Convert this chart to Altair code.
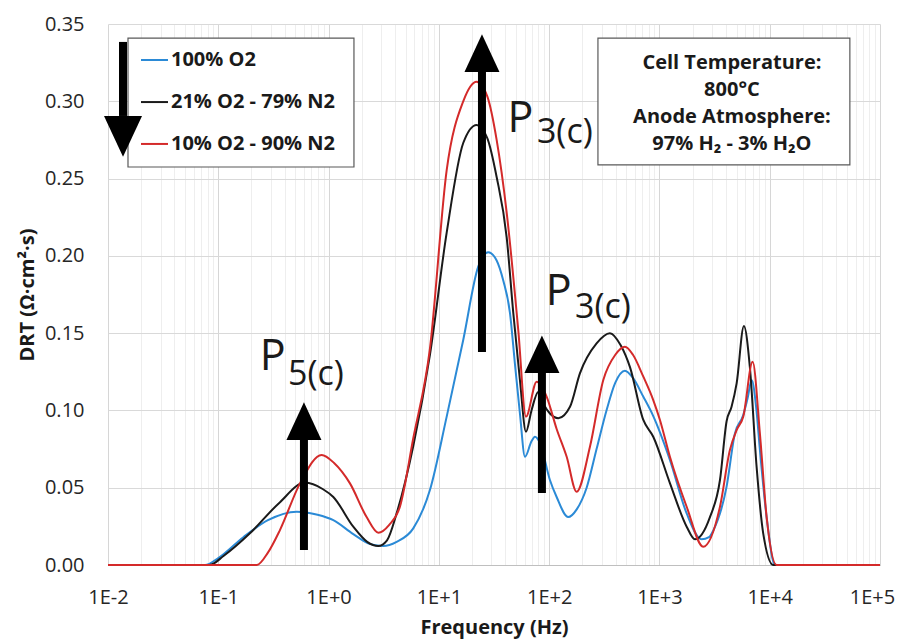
import altair as alt
import pandas as pd

FONT = "Open Sans"

# ---------------- data ----------------
series_names = ["100% O2", "21% O2 - 79% N2", "10% O2 - 90% N2"]
series_colors = ["#2b8ad6", "#1a1a1a", "#d42a2a"]

# log10(frequency / Hz) and DRT (Ohm cm^2 s)
blue_logf = [-2.0, -1.12, -1.0, -0.773, -0.55, -0.289, -0.1, 0.043, 0.224, 0.38, 0.496, 0.617,
             0.768, 0.919, 1.071, 1.221, 1.357, 1.448, 1.524, 1.584, 1.645, 1.69, 1.735, 1.781,
             1.84, 1.871, 1.917, 2.007, 2.068, 2.173, 2.25, 2.34, 2.43, 2.52, 2.6, 2.687, 2.76,
             2.853, 2.94, 3.095, 3.247, 3.382, 3.45, 3.49, 3.609, 3.684, 3.76, 3.8, 3.836, 3.88,
             3.911, 3.972, 4.047, 5.0]
blue_drt = [0.0, 0.0, 0.0045, 0.018, 0.029, 0.0345, 0.0325, 0.029, 0.020, 0.0135, 0.0123, 0.015,
            0.0237, 0.0485, 0.096, 0.1456, 0.193, 0.2023, 0.197, 0.184, 0.163, 0.130, 0.098, 0.070,
            0.080, 0.083, 0.079, 0.055, 0.044, 0.031, 0.036, 0.050, 0.075, 0.100, 0.118, 0.1257, 0.121,
            0.109, 0.097, 0.068, 0.0334, 0.0166, 0.018, 0.0226, 0.0507, 0.085, 0.097, 0.108, 0.1197, 0.100,
            0.0744, 0.031, 0.0, 0.0]

black_logf = [-2.0, -1.08, -0.95, -0.713, -0.45, -0.214, -0.05, 0.043, 0.224, 0.35, 0.45, 0.53,
              0.617, 0.768, 0.919, 1.071, 1.221, 1.343, 1.44, 1.524, 1.615, 1.675, 1.735, 1.79,
              1.84, 1.901, 1.95, 2.007, 2.083, 2.189, 2.279, 2.43, 2.551, 2.65, 2.733, 2.853, 2.944,
              3.095, 3.247, 3.322, 3.458, 3.549, 3.609, 3.654, 3.7, 3.766, 3.82, 3.881, 3.941, 4.032, 5.0]
black_drt = [0.0, 0.0, 0.006, 0.0205, 0.040, 0.0533, 0.049, 0.044, 0.0248, 0.015, 0.0123, 0.016,
             0.0334, 0.077, 0.136, 0.215, 0.273, 0.2847, 0.276, 0.251, 0.212, 0.163, 0.1197, 0.0862,
             0.100, 0.112, 0.104, 0.098, 0.095, 0.1024, 0.124, 0.1434, 0.150, 0.142, 0.128, 0.094, 0.083,
             0.053, 0.0248, 0.0166, 0.031, 0.055, 0.093, 0.1024, 0.1175, 0.1546, 0.128, 0.0636, 0.0205, 0.0, 0.0]

red_logf = [-2.0, -0.65, -0.55, -0.441, -0.259, -0.063, 0.05, 0.194, 0.345, 0.451, 0.55, 0.647,
            0.768, 0.919, 1.071, 1.221, 1.343, 1.44, 1.524, 1.615, 1.72, 1.79, 1.887, 1.977, 2.068,
            2.159, 2.249, 2.37, 2.491, 2.6, 2.687, 2.76, 2.853, 2.944, 3.004, 3.095, 3.247, 3.397,
            3.549, 3.639, 3.7, 3.76, 3.845, 3.911, 3.972, 4.062, 5.0]
red_drt = [0.0, 0.0, 0.008, 0.0226, 0.0528, 0.0712, 0.066, 0.0528, 0.031, 0.0209, 0.026, 0.0377,
           0.082, 0.140, 0.2555, 0.300, 0.3127, 0.303, 0.275, 0.228, 0.152, 0.096, 0.1186, 0.109, 0.088,
           0.070, 0.0474, 0.0765, 0.1197, 0.136, 0.1412, 0.136, 0.122, 0.1067, 0.094, 0.070, 0.0377, 0.0118,
           0.0377, 0.0744, 0.0873, 0.096, 0.1315, 0.085, 0.031, 0.0, 0.0]

x_decades = [0.01, 0.1, 1, 10, 100, 1000, 10000, 100000]
y_ticks = [0.0, 0.05, 0.10, 0.15, 0.20, 0.25, 0.30, 0.35]

# annotation arrows (frequency, tail value, head-base value, head width px, direction)
arrow_freq = [0.01368, 24.6, 86.0, 0.598]
arrow_tail = [0.3384, 0.1378, 0.0466, 0.0097]
arrow_base = [0.2905, 0.3190, 0.1242, 0.0809]
arrow_dir = ["down", "up", "up", "up"]
arrow_width = [38, 35, 35, 35]

# peak labels
peak_main = ["P", "P", "P"]
peak_sub = ["3(c)", "3(c)", "5(c)"]
peak_main_freq = [42.0, 93.0, 0.238]
peak_main_drt = [0.2801, 0.1682, 0.1262]
peak_sub_freq = [77.5, 171.4, 0.4285]
peak_sub_drt = [0.2730, 0.1598, 0.1165]

# legend box and info box (in data units)
legend_box = {"x": 0.01518, "x2": 1.699, "y": 0.3409, "y2": 0.2575}
legend_sample_x = [0.01991, 0.03499]
legend_text_x = 0.03725
legend_rows = [0.3267, 0.2995, 0.2724]

info_box = {"x": 277.0, "x2": 53300.0, "y": 0.3409, "y2": 0.2588}
info_lines = ["Cell Temperature:", "800°C", "Anode Atmosphere:", "97% H₂ - 3% H₂O"]
info_x = 4543.0
info_rows = [0.3248, 0.3073, 0.2898, 0.2724]

# ---------------- chart ----------------
x_scale = alt.Scale(type="log", domain=[0.01, 100000])
y_scale = alt.Scale(domain=[0, 0.35])

grid_values = [m * 10.0 ** e for e in range(-2, 5) for m in range(1, 10)] + [100000.0]
is_dec = "abs(log(datum.value)/LN10 - round(log(datum.value)/LN10)) < 0.001"
lab = ("(" + is_dec + ") ? (datum.value < 1 ? '1E-' + round(-log(datum.value)/LN10) "
       ": '1E+' + round(log(datum.value)/LN10)) : ''")

x_axis = alt.Axis(values=grid_values, labelExpr=lab, labelOverlap=False, labelFlush=False,
                  gridColor={"condition": {"test": is_dec, "value": "#d6d6d6"}, "value": "#eeeeee"},
                  labelOffset={"condition": {"test": "datum.value > 50000", "value": -8}, "value": 0},
                  ticks=False, domainColor="#bfbfbf", labelFont=FONT, labelFontSize=20,
                  labelColor="#262626", labelPadding=22, title="Frequency (Hz)", titleFont=FONT,
                  titleFontSize=20, titleFontWeight="bold", titleColor="#1a1a1a", titlePadding=10)
y_axis = alt.Axis(values=y_ticks, format=".2f", gridColor="#d9d9d9", domain=False, ticks=False,
                  labelFont=FONT, labelFontSize=20, labelColor="#262626", labelPadding=24,
                  labelFlush=False, title="DRT (Ω·cm²·s)", titleFont=FONT, titleFontSize=20,
                  titleFontWeight="bold", titleColor="#1a1a1a", titlePadding=7)


def X(field):
    return alt.X(field, type="quantitative", scale=x_scale, axis=x_axis)


def Y(field):
    return alt.Y(field, type="quantitative", scale=y_scale, axis=y_axis)


layers = []

# boxes
box_df = pd.DataFrame([legend_box, info_box])
layers.append(alt.Chart(box_df).mark_rect(fill="white", stroke="#595959", strokeWidth=1.2)
              .encode(x=X("x"), x2="x2", y=Y("y"), y2="y2"))

# curves
curve_data = [(blue_logf, blue_drt), (black_logf, black_drt), (red_logf, red_drt)]
for i, (lf, dv) in enumerate(curve_data):
    df = pd.DataFrame({"freq": [10.0 ** v for v in lf], "drt": dv, "idx": range(len(lf))})
    layers.append(alt.Chart(df).mark_line(color=series_colors[i], strokeWidth=2, interpolate="monotone")
                  .encode(x=X("freq"), y=Y("drt"), order="idx:Q"))

# legend
leg_df = pd.DataFrame({"x": [legend_sample_x[0]] * 3, "x2": [legend_sample_x[1]] * 3,
                       "y": legend_rows, "series": series_names, "tx": [legend_text_x] * 3})
layers.append(alt.Chart(leg_df).mark_rule(strokeWidth=2).encode(
    x=X("x"), x2="x2", y=Y("y"),
    color=alt.Color("series:N", scale=alt.Scale(domain=series_names, range=series_colors), legend=None)))
layers.append(alt.Chart(leg_df).mark_text(align="left", baseline="middle", font=FONT, fontSize=20,
                                          fontWeight="bold", color="#1a1a1a")
              .encode(x=X("tx"), y=Y("y"), text="series:N"))

# info box text
info_df = pd.DataFrame({"x": [info_x] * 4, "y": info_rows, "t": info_lines})
layers.append(alt.Chart(info_df).mark_text(align="center", baseline="middle", font=FONT, fontSize=20,
                                           fontWeight="bold", color="#1a1a1a")
              .encode(x=X("x"), y=Y("y"), text="t:N"))

# arrows
for f, t, b, d, w in zip(arrow_freq, arrow_tail, arrow_base, arrow_dir, arrow_width):
    adf = pd.DataFrame({"x": [f], "t": [t], "b": [b]})
    layers.append(alt.Chart(adf).mark_rule(color="black", strokeWidth=8, strokeCap="butt")
                  .encode(x=X("x"), y=Y("t"), y2="b"))
    shape = "M0,-2.15L1,0L-1,0Z" if d == "up" else "M0,2.15L1,0L-1,0Z"
    layers.append(alt.Chart(adf).mark_point(shape=shape, size=w * w, filled=True, color="black",
                                            opacity=1, strokeWidth=0)
                  .encode(x=X("x"), y=Y("b")))

# peak labels
pm_df = pd.DataFrame({"x": peak_main_freq, "y": peak_main_drt, "t": peak_main})
ps_df = pd.DataFrame({"x": peak_sub_freq, "y": peak_sub_drt, "t": peak_sub})
layers.append(alt.Chart(pm_df).mark_text(align="left", baseline="alphabetic", font=FONT, fontSize=43,
                                         color="#1a1a1a")
              .encode(x=X("x"), y=Y("y"), text="t:N"))
layers.append(alt.Chart(ps_df).mark_text(align="left", baseline="alphabetic", font=FONT, fontSize=34,
                                         color="#1a1a1a")
              .encode(x=X("x"), y=Y("y"), text="t:N"))

chart = alt.layer(*layers).properties(
    width=772, height=541,
    autosize=alt.AutoSizeParams(type="none"),
    padding={"left": 100, "top": 16, "right": 16, "bottom": 76},
    background="white",
).configure_view(stroke=None)

chart.save("out.html", embed_options={"renderer": "svg", "actions": False})
